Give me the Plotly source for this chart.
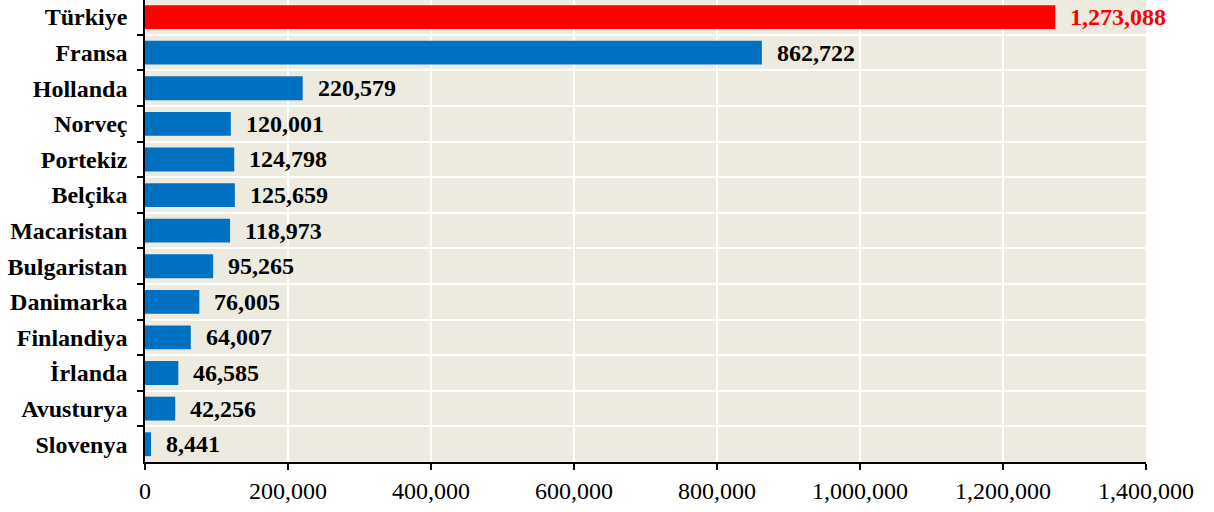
import plotly.graph_objects as go

# Countries listed from top to bottom, with their values
countries = ["Türkiye", "Fransa", "Hollanda", "Norveç", "Portekiz", "Belçika",
             "Macaristan", "Bulgaristan", "Danimarka", "Finlandiya", "İrlanda",
             "Avusturya", "Slovenya"]
values = [1273088, 862722, 220579, 120001, 124798, 125659, 118973,
          95265, 76005, 64007, 46585, 42256, 8441]
x_ticks = [0, 200000, 400000, 600000, 800000, 1000000, 1200000, 1400000]

BLUE = "#0070C0"
RED = "#FF0000"
bar_colors = [RED if c == "Türkiye" else BLUE for c in countries]
FONT = "Liberation Serif"

fig = go.Figure(go.Bar(
    x=values,
    y=countries,
    orientation="h",
    marker=dict(color=bar_colors, line=dict(width=0)),
    width=0.67,
    hoverinfo="x+y",
))

# Value labels to the right of each bar
for c, v, col in zip(countries, values, bar_colors):
    fig.add_annotation(
        x=v, y=c, text=f"{v:,}", showarrow=False,
        xanchor="left", yanchor="middle", xshift=13,
        font=dict(family=FONT, size=24, color="#000000" if col == BLUE else RED,
                  weight="bold"),
    )

fig.update_layout(
    width=1214, height=512,
    margin=dict(l=145, r=68, t=0, b=50),
    paper_bgcolor="white",
    plot_bgcolor="#EDEAE0",
    showlegend=False,
    font=dict(family=FONT, size=24, color="black"),
    xaxis=dict(
        range=[0, 1400000],
        tickvals=x_ticks,
        ticktext=[f"{t:,}" for t in x_ticks],
        showgrid=True, gridcolor="white", gridwidth=2,
        showline=True, linecolor="black", linewidth=1.5,
        ticks="outside", ticklen=6, tickcolor="black", tickwidth=1.5,
        zeroline=False,
        tickfont=dict(family=FONT, size=24, color="black"),
    ),
    yaxis=dict(
        type="category",
        categoryorder="array", categoryarray=countries,
        range=[12.5, -0.48],
        showgrid=True, gridcolor="white", gridwidth=2,
        tickson="boundaries",
        showline=True, linecolor="black", linewidth=1.5,
        ticks="outside", ticklen=6, tickcolor="black", tickwidth=1.5,
        ticklabelstandoff=11,
        tickfont=dict(family=FONT, size=24, color="black", weight="bold"),
    ),
)

fig.write_html("out.html")
